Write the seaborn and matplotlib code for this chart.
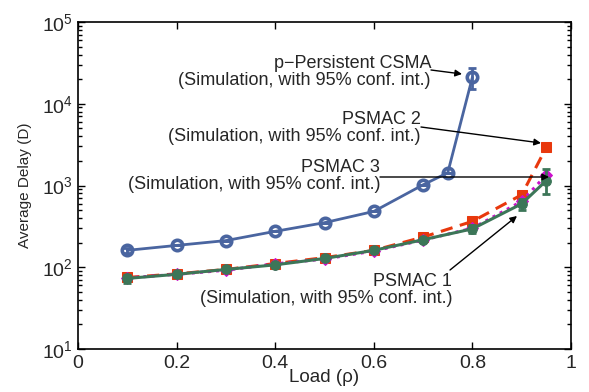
import numpy as np
import pandas as pd
import matplotlib
matplotlib.use("Agg")
import matplotlib.pyplot as plt
from matplotlib.ticker import LogLocator, FixedLocator, NullFormatter
import seaborn as sns

# ---- data ----
load_csma = [0.1, 0.2, 0.3, 0.4, 0.5, 0.6, 0.7, 0.75, 0.8]
delay_csma = [161, 185, 212, 275, 351, 482, 1020, 1430, 21100]
err_csma_lo = [12, 0, 0, 0, 0, 0, 0, 0, 6000]
err_csma_hi = [12, 0, 0, 0, 0, 0, 0, 0, 6000]

load_psmac = [0.1, 0.2, 0.3, 0.4, 0.5, 0.6, 0.7, 0.8, 0.9, 0.95]
delay_psmac2 = [75, 83, 94, 111, 131, 161, 234, 364, 770, 2930]
delay_psmac3 = [74, 82, 92, 110, 126, 158, 215, 300, 640, 1350]
delay_psmac1 = [73, 82, 94, 107, 128, 161, 217, 295, 598, 1150]
err_psmac1_lo = [8, 5, 5, 7, 7, 6, 9, 30, 100, 370]
err_psmac1_hi = [8, 5, 5, 7, 7, 6, 9, 30, 90, 440]

xticks = [0, 0.2, 0.4, 0.6, 0.8, 1]
xtick_labels = ["0", "0.2", "0.4", "0.6", "0.8", "1"]

c_blue = "#4A65A0"
c_red = "#E8380D"
c_mag = "#CC10CC"
c_green = "#3C7658"

sns.set_style("ticks")
plt.rcParams["font.family"] = ["Liberation Sans", "DejaVu Sans"]
plt.rcParams["xtick.direction"] = "in"
plt.rcParams["ytick.direction"] = "in"
plt.rcParams["mathtext.fontset"] = "custom"
plt.rcParams["mathtext.rm"] = "Liberation Sans"

fig = plt.figure(figsize=(5.89, 3.92), dpi=100)
ax = fig.add_axes([78/589, 1-349/392, (571-78)/589, (349-22)/392])

df_csma = pd.DataFrame({"load": load_csma, "delay": delay_csma})
df_p = pd.DataFrame({"load": load_psmac, "p1": delay_psmac1, "p2": delay_psmac2, "p3": delay_psmac3})

# CSMA
sns.lineplot(data=df_csma, x="load", y="delay", ax=ax, color=c_blue, lw=2,
             marker="o", markersize=7.5, markerfacecolor="none", markeredgecolor=c_blue,
             markeredgewidth=2.6, zorder=3)
ax.errorbar(load_csma, delay_csma, yerr=[err_csma_lo, err_csma_hi], fmt="none",
            ecolor=c_blue, elinewidth=2, capsize=3, capthick=2, zorder=3)

# PSMAC 2 (red dashed, squares)
sns.lineplot(data=df_p, x="load", y="p2", ax=ax, color=c_red, lw=2.2,
             marker="s", markersize=7, markeredgecolor=c_red, zorder=4)
ax.lines[-1].set_dashes([4, 2.5])

# PSMAC 3 (magenta dotted, diamonds)
sns.lineplot(data=df_p, x="load", y="p3", ax=ax, color=c_mag, lw=2.2,
             marker="D", markersize=6, markeredgecolor=c_mag, zorder=5)
ax.lines[-1].set_linestyle(":")

# PSMAC 1 (green solid, circles, errorbars)
sns.lineplot(data=df_p, x="load", y="p1", ax=ax, color=c_green, lw=2.2,
             marker="o", markersize=7, markeredgecolor=c_green, zorder=6)
ax.errorbar(load_psmac, delay_psmac1, yerr=[err_psmac1_lo, err_psmac1_hi], fmt="none",
            ecolor=c_green, elinewidth=2, capsize=3, capthick=2, zorder=6)

ax.set_yscale("log")
ax.set_xlim(0, 1)
ax.set_ylim(10, 1e5)
ax.set_xticks(xticks)
ax.set_xticklabels(xtick_labels)
ax.yaxis.set_major_locator(FixedLocator([1e1, 1e2, 1e3, 1e4, 1e5]))
ax.yaxis.set_minor_locator(LogLocator(base=10, subs=np.arange(2, 10)))
ax.yaxis.set_minor_formatter(NullFormatter())
ax.xaxis.set_minor_locator(FixedLocator([]))
ax.tick_params(which="both", top=True, right=True, labelsize=14, width=1, color="black")
ax.tick_params(axis="x", pad=4)
ax.tick_params(which="major", length=5)
ax.tick_params(which="minor", length=3)
for s in ax.spines.values():
    s.set_linewidth(1.2)
    s.set_color("black")

ax.set_xlabel("Load (ρ)", fontsize=13.5, labelpad=-2)
ax.set_ylabel("Average Delay (D)", fontsize=11, labelpad=7)

fs = 13

def ann(txt, tx, ty, ax_x, ax_y, px, py):
    # tx, ty: text right-edge / center in pixel coords; arrow from (ax_x, ax_y) to (px,py) pixels
    inv = fig.transFigure.inverted()
    t = inv.transform((tx, 392 - ty))
    a0 = inv.transform((ax_x, 392 - ax_y))
    a1 = inv.transform((px, 392 - py))
    fig.text(t[0], t[1], txt, ha="right", va="center", multialignment="right", fontsize=fs,
             linespacing=1.05)
    fig.add_artist(matplotlib.patches.FancyArrowPatch(a0, a1, transform=fig.transFigure,
                   arrowstyle="-|>", mutation_scale=10, color="black", lw=1,
                   shrinkA=0, shrinkB=0))

ann("p\u2212Persistent CSMA\n(Simulation, with 95% conf. int.)", 431, 72, 431, 70, 462, 74)
ann("PSMAC 2\n(Simulation, with 95% conf. int.)", 421, 128, 421, 127, 541, 143)
ann("PSMAC 3\n(Simulation, with 95% conf. int.)", 380, 176, 380, 177, 549, 177)
ann("PSMAC 1\n(Simulation, with 95% conf. int.)", 452, 290, 450, 270, 517, 216)

fig.savefig("out.png", dpi=100, facecolor="white")
